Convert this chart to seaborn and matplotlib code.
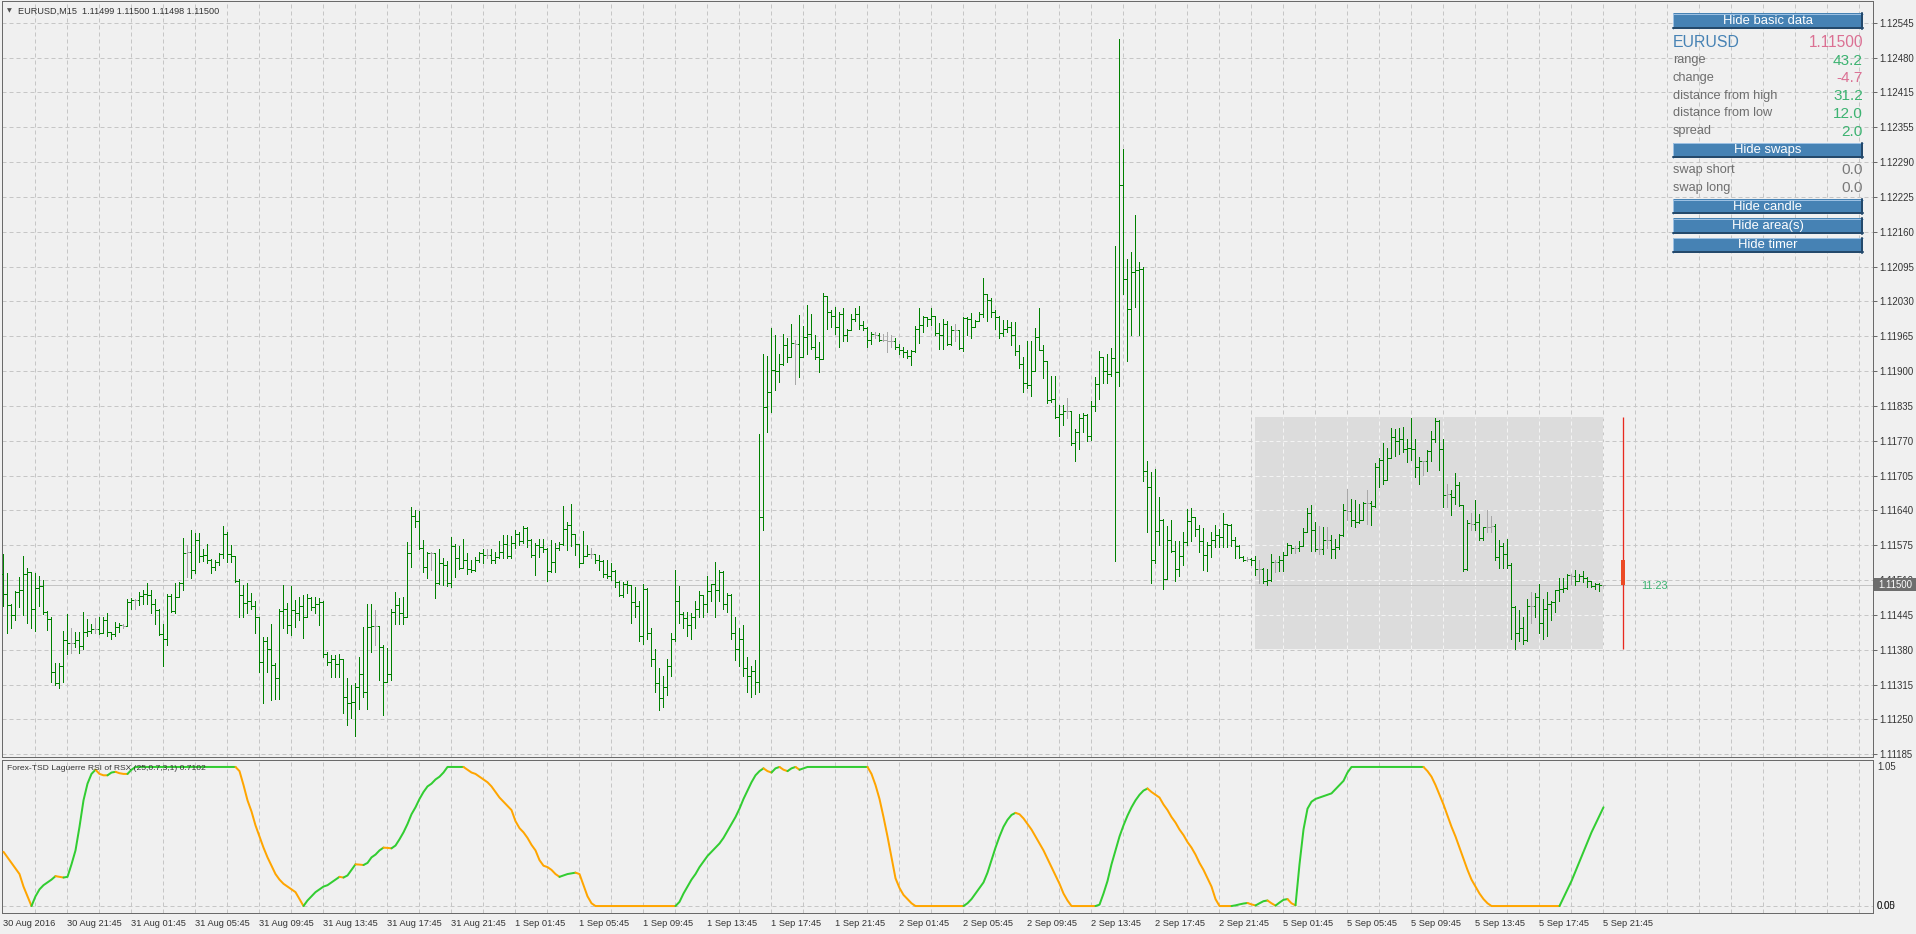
import numpy as np
import pandas as pd
import matplotlib
matplotlib.use("Agg")
import matplotlib.pyplot as plt
from matplotlib.patches import Rectangle
import seaborn as sns

# ---------------------------------------------------------------- data
symbol = "EURUSD"
timeframe = "M15"
last_quote = ["1.11499", "1.11500", "1.11498", "1.11500"]
price_base = 1.11000          # bar values below are in points above this base
point = 0.00001
first_open = 520

bar_high = [
    557, 522, 465, 488, 514, 553, 532, 524, 522, 516,
    509, 452, 440, 354, 354, 415, 446, 419, 413, 413,
    449, 436, 428, 438, 440, 441, 447, 413, 431, 430,
    427, 473, 475, 473, 487, 490, 503, 490, 473, 455,
    428, 483, 483, 503, 506, 588, 574, 602, 596, 596,
    566, 576, 548, 546, 560, 609, 599, 574, 553, 510,
    499, 503, 485, 470, 440, 403, 403, 428, 355, 456,
    500, 466, 498, 472, 478, 481, 483, 477, 478, 475,
    470, 375, 370, 370, 371, 362, 326, 314, 317, 366,
    422, 465, 465, 454, 424, 388, 382, 456, 487, 475,
    478, 579, 644, 640, 637, 583, 561, 561, 560, 566,
    549, 544, 589, 576, 572, 586, 560, 546, 552, 561,
    567, 566, 566, 561, 581, 592, 592, 590, 602, 599,
    609, 608, 586, 577, 586, 586, 568, 584, 577, 579,
    646, 617, 650, 595, 576, 600, 574, 568, 558, 555,
    546, 547, 540, 527, 507, 505, 507, 500, 496, 470,
    502, 495, 420, 380, 345, 330, 362, 410, 527, 497,
    450, 450, 448, 470, 488, 481, 516, 502, 542, 527,
    526, 484, 483, 440, 420, 425, 365, 350, 360, 780,
    930, 925, 977, 964, 930, 967, 958, 985, 955, 1001,
    981, 1020, 1003, 964, 951, 1042, 1017, 1010, 1017, 1008,
    1015, 976, 1003, 1014, 1018, 990, 980, 970, 970, 968,
    966, 970, 965, 958, 947, 943, 937, 936, 981, 1015,
    1000, 997, 1015, 1000, 987, 995, 990, 981, 985, 973,
    998, 997, 1005, 993, 1007, 1071, 1041, 1033, 1010, 1000,
    992, 993, 988, 988, 945, 924, 953, 953, 978, 1014,
    946, 916, 889, 889, 834, 834, 848, 823, 789, 818,
    819, 818, 841, 887, 934, 924, 929, 941, 1130, 1514,
    1311, 1105, 1118, 1188, 1101, 1090, 731, 709, 715, 664,
    622, 609, 620, 582, 581, 598, 641, 642, 627, 611,
    605, 580, 599, 611, 603, 633, 614, 614, 589, 574,
    553, 551, 549, 553, 546, 532, 529, 557, 547, 553,
    561, 578, 574, 572, 582, 605, 642, 648, 617, 609,
    608, 608, 592, 586, 594, 650, 679, 659, 657, 651,
    654, 676, 656, 726, 735, 764, 755, 791, 789, 791,
    793, 772, 811, 772, 738, 731, 750, 786, 811, 807,
    772, 687, 676, 707, 692, 648, 621, 633, 657, 631,
    608, 639, 628, 614, 584, 577, 586, 540, 460, 454,
    440, 473, 487, 485, 501, 473, 487, 470, 491, 512,
    512, 520, 521, 527, 520, 526, 515, 506, 504, 504,
    500,
]
bar_low = [
    461, 410, 420, 435, 459, 444, 430, 420, 415, 460,
    445, 416, 320, 314, 309, 320, 372, 374, 385, 374,
    380, 405, 410, 410, 408, 410, 404, 399, 405, 413,
    420, 424, 456, 456, 462, 465, 465, 447, 428, 407,
    350, 388, 450, 447, 478, 490, 515, 512, 522, 543,
    545, 540, 522, 527, 537, 549, 543, 543, 506, 441,
    441, 447, 455, 411, 338, 281, 338, 286, 287, 287,
    419, 410, 407, 422, 434, 402, 440, 453, 447, 425,
    365, 351, 329, 329, 329, 261, 239, 252, 219, 270,
    292, 270, 376, 388, 323, 258, 323, 323, 428, 428,
    428, 440, 533, 608, 567, 524, 512, 528, 475, 501,
    499, 498, 496, 515, 529, 532, 521, 524, 525, 543,
    541, 550, 540, 541, 549, 549, 549, 550, 569, 574,
    577, 571, 552, 518, 552, 561, 507, 524, 524, 565,
    574, 564, 572, 555, 533, 540, 553, 549, 540, 527,
    515, 512, 509, 496, 479, 478, 484, 430, 440, 395,
    390, 400, 350, 300, 268, 272, 295, 330, 395, 430,
    420, 405, 400, 420, 440, 440, 450, 470, 440, 470,
    455, 450, 400, 360, 350, 330, 300, 292, 298, 300,
    602, 785, 822, 862, 877, 909, 915, 925, 874, 887,
    923, 929, 939, 919, 895, 919, 976, 980, 966, 943,
    953, 953, 973, 990, 976, 973, 943, 947, 959, 953,
    953, 932, 943, 938, 929, 924, 922, 909, 932, 949,
    970, 981, 983, 965, 939, 939, 946, 946, 954, 939,
    934, 965, 959, 980, 990, 997, 990, 997, 976, 958,
    963, 970, 946, 927, 904, 858, 865, 851, 899, 936,
    885, 838, 840, 811, 777, 797, 811, 760, 730, 753,
    785, 767, 770, 824, 846, 875, 875, 888, 544, 870,
    1041, 916, 965, 1017, 965, 693, 598, 503, 540, 574,
    493, 510, 561, 507, 517, 537, 575, 582, 590, 561,
    527, 526, 552, 571, 571, 571, 571, 572, 549, 549,
    545, 545, 537, 518, 503, 503, 499, 507, 524, 526,
    526, 555, 560, 560, 563, 574, 599, 563, 563, 558,
    558, 568, 549, 549, 566, 590, 620, 609, 608, 615,
    620, 614, 611, 645, 681, 688, 695, 735, 739, 743,
    747, 729, 732, 700, 688, 704, 712, 731, 766, 714,
    644, 645, 630, 650, 646, 526, 527, 602, 602, 583,
    584, 599, 599, 546, 532, 532, 532, 400, 380, 395,
    390, 395, 430, 440, 410, 400, 405, 435, 450, 470,
    487, 493, 502, 499, 507, 506, 496, 496, 493, 489,
    498,
]
bar_close = [
    483, 463, 444, 487, 491, 521, 524, 456, 495, 497,
    450, 437, 338, 317, 349, 397, 392, 391, 397, 386,
    413, 415, 418, 417, 411, 435, 412, 409, 422, 425,
    424, 468, 472, 472, 479, 483, 481, 465, 453, 409,
    399, 479, 451, 478, 504, 560, 561, 527, 584, 553,
    555, 546, 533, 543, 558, 594, 558, 553, 508, 481,
    467, 470, 461, 440, 357, 395, 380, 351, 326, 452,
    456, 425, 454, 448, 460, 440, 475, 459, 465, 468,
    372, 357, 363, 352, 362, 292, 280, 283, 310, 335,
    300, 422, 424, 424, 385, 320, 335, 450, 462, 447,
    441, 560, 628, 618, 568, 533, 559, 559, 503, 540,
    537, 503, 572, 549, 532, 547, 530, 527, 546, 560,
    555, 555, 547, 552, 561, 576, 554, 577, 595, 582,
    606, 583, 555, 574, 571, 566, 525, 543, 569, 576,
    603, 611, 595, 576, 541, 553, 558, 558, 546, 544,
    521, 517, 525, 505, 481, 502, 499, 468, 460, 405,
    493, 410, 362, 318, 290, 310, 350, 400, 470, 445,
    438, 425, 440, 455, 481, 465, 488, 501, 490, 524,
    465, 481, 410, 380, 400, 345, 330, 340, 320, 626,
    830, 858, 900, 898, 910, 946, 924, 949, 948, 923,
    960, 966, 943, 924, 919, 1037, 1007, 1000, 980, 1003,
    965, 974, 995, 1003, 983, 978, 956, 966, 965, 956,
    955, 954, 953, 943, 936, 932, 926, 934, 976, 983,
    997, 995, 999, 968, 965, 985, 947, 974, 973, 941,
    996, 994, 980, 990, 1003, 1041, 1029, 1007, 997, 968,
    975, 980, 965, 934, 911, 875, 872, 897, 961, 937,
    916, 843, 846, 812, 818, 823, 823, 763, 785, 811,
    816, 777, 833, 873, 924, 897, 892, 922, 895, 1243,
    1069, 1013, 1082, 1085, 1087, 711, 682, 546, 601, 620,
    510, 584, 562, 530, 554, 580, 618, 627, 603, 582,
    555, 574, 584, 592, 589, 614, 612, 583, 572, 551,
    547, 548, 546, 529, 530, 507, 509, 543, 543, 546,
    555, 574, 568, 569, 572, 599, 634, 602, 566, 567,
    584, 584, 566, 571, 592, 639, 638, 620, 617, 621,
    652, 653, 646, 719, 733, 695, 735, 774, 767, 772,
    752, 755, 752, 719, 731, 730, 749, 772, 805, 752,
    667, 668, 664, 685, 648, 529, 615, 614, 616, 588,
    607, 608, 609, 552, 572, 558, 537, 459, 410, 420,
    398, 460, 461, 478, 430, 456, 465, 468, 490, 493,
    495, 518, 517, 507, 516, 512, 507, 498, 501, 499,
    500,
]

rsi_values = (
    [0.39, 0.35, 0.31, 0.27, 0.23, 0.14, 0.07, 0.00, 0.07, 0.12,
     0.15, 0.17, 0.19, 0.215, 0.21, 0.205, 0.21, 0.30, 0.40, 0.57,
     0.76, 0.88, 0.95, 0.98, 0.95, 0.94, 0.94, 0.96, 0.965, 0.955,
     0.95, 0.95, 0.98]
    + [1.0] * 26
    + [0.97, 0.87, 0.76, 0.68, 0.58, 0.50, 0.42, 0.35, 0.29, 0.23, 0.19,
       0.16, 0.14, 0.12, 0.10, 0.05, 0.00, 0.04, 0.07, 0.10, 0.12,
       0.14, 0.15, 0.17, 0.19, 0.21, 0.205, 0.22, 0.26, 0.30, 0.298,
       0.295, 0.31, 0.35, 0.37, 0.40, 0.42, 0.418, 0.415, 0.435, 0.48]
    + [0.53, 0.59, 0.66, 0.71, 0.77, 0.82, 0.86, 0.88, 0.91, 0.93, 0.96]
    + [1.0] * 5
    + [0.98, 0.96, 0.95, 0.93, 0.91, 0.89, 0.86, 0.82, 0.78, 0.75, 0.72, 0.69,
       0.61, 0.56, 0.53, 0.49, 0.44, 0.40, 0.33, 0.29, 0.28, 0.26, 0.23, 0.21,
       0.22, 0.23, 0.235, 0.24, 0.23, 0.15, 0.07, 0.02]
    + [0.0] * 21
    + [0.03, 0.09, 0.14, 0.19, 0.23, 0.28, 0.32, 0.36, 0.39, 0.42, 0.45,
       0.49, 0.54, 0.59, 0.64, 0.70, 0.77, 0.83, 0.89, 0.94, 0.97,
       0.99, 0.97, 0.96, 0.99, 1.0, 0.98, 0.97, 0.99, 1.0, 0.98, 0.99]
    + [1.0] * 16
    + [0.95, 0.87, 0.77, 0.64, 0.50, 0.35, 0.20, 0.13, 0.08, 0.05, 0.02]
    + [0.0] * 13
    + [0.02, 0.05, 0.09, 0.13, 0.17, 0.24, 0.33, 0.42, 0.50,
       0.57, 0.62, 0.655, 0.67, 0.66, 0.63, 0.59, 0.55, 0.50, 0.45,
       0.40, 0.34, 0.28, 0.22, 0.16, 0.09, 0.04]
    + [0.0] * 7
    + [0.01, 0.09, 0.18, 0.30, 0.40, 0.50,
       0.58, 0.65, 0.71, 0.76, 0.80, 0.83, 0.845, 0.82, 0.80, 0.78,
       0.73, 0.69, 0.64, 0.60, 0.55, 0.51, 0.46, 0.42, 0.37, 0.31,
       0.26, 0.20, 0.14, 0.05]
    + [0.0] * 4
    + [0.005, 0.012, 0.018, 0.022, 0.012, 0.004, 0.02, 0.035, 0.04, 0.02,
       0.003, 0.025, 0.045, 0.05, 0.02, 0.005,
       0.30, 0.55, 0.70, 0.75, 0.77, 0.78, 0.79, 0.80, 0.81, 0.84, 0.87, 0.90, 0.96]
    + [1.0] * 19
    + [0.97, 0.93, 0.87, 0.80, 0.73, 0.65, 0.57, 0.50, 0.42, 0.34, 0.26, 0.19,
       0.14, 0.09, 0.05, 0.02]
    + [0.0] * 18
    + [0.06, 0.12, 0.18, 0.25, 0.32, 0.39, 0.46, 0.53, 0.59, 0.65, 0.71]
)
rsi_title = "Forex-TSD Laguerre RSI of RSX (25,0.7,3,1) 0.7102"

time_labels = [
    "30 Aug 2016", "30 Aug 21:45", "31 Aug 01:45", "31 Aug 05:45", "31 Aug 09:45",
    "31 Aug 13:45", "31 Aug 17:45", "31 Aug 21:45", "1 Sep 01:45", "1 Sep 05:45",
    "1 Sep 09:45", "1 Sep 13:45", "1 Sep 17:45", "1 Sep 21:45", "2 Sep 01:45",
    "2 Sep 05:45", "2 Sep 09:45", "2 Sep 13:45", "2 Sep 17:45", "2 Sep 21:45",
    "5 Sep 01:45", "5 Sep 05:45", "5 Sep 09:45", "5 Sep 13:45", "5 Sep 17:45",
    "5 Sep 21:45",
]
price_labels = [
    "1.12545", "1.12480", "1.12415", "1.12355", "1.12290", "1.12225", "1.12160",
    "1.12095", "1.12030", "1.11965", "1.11900", "1.11835", "1.11770", "1.11705",
    "1.11640", "1.11575", "1.11510", "1.11445", "1.11380", "1.11315", "1.11250",
    "1.11185",
]
bid_price = 1.11500
day_open, day_high, day_low, day_close = 1.11547, 1.11812, 1.11380, 1.11500
day_first_bar = 313
timer_text = "11:23"
info_labels = ["range", "change", "distance from high", "distance from low", "spread"]
info_values = ["43.2", "-4.7", "31.2", "12.0", "2.0"]
swap_labels = ["swap short", "swap long"]
swap_values = ["0.0", "0.0"]
button_texts = ["Hide basic data", "Hide swaps", "Hide candle", "Hide area(s)", "Hide timer"]

# ---------------------------------------------------------------- style
BG = "#f0f0f0"
GRID = "#c6c6c6"
BAR = "#008000"
DOJI = "#a8a8a8"
FRAME = "#6a6a6a"
TXT = "#333333"
GREEN_V = "#3cb371"
PINK_V = "#db7093"
STEEL = "#4682b4"
RSI_UP = "#32cd32"
RSI_DN = "#ffa500"
PX = 0.72  # one pixel in points at dpi 100

sns.set_theme(style="white", rc={"axes.facecolor": BG, "figure.facecolor": BG})
plt.rcParams["font.family"] = ["Liberation Sans", "DejaVu Sans"]

W, H = 1916, 934
fig = plt.figure(figsize=(W / 100, H / 100), dpi=100, facecolor=BG)


def px_axes(x0, y0, x1, y1):
    return fig.add_axes([x0 / W, 1 - y1 / H, (x1 - x0) / W, (y1 - y0) / H])


ax = px_axes(2, 1, 1873, 757)
ax2 = px_axes(2, 760, 1873, 913)

# x: bar i centred on pixel 3.5 + 4 i
xl = ((2 - 3.5) / 4, (1873 - 3.5) / 4)
ppp = (754.3 - 22.7) / (1.12545 - 1.11185)  # pixels per price unit
ax.set_xlim(*xl)
ax.set_ylim(1.11185 - (757 - 754.3) / ppp, 1.12545 + (22.7 - 1) / ppp)
ax2.set_xlim(*xl)
ax2.set_ylim(-0.05, 1.05)

n = len(bar_close)
idx = np.arange(n)
hi = price_base + np.array(bar_high) * point
lo = price_base + np.array(bar_low) * point
cl = price_base + np.array(bar_close) * point
op = price_base + np.array([first_open] + bar_close[:-1]) * point
hi = np.maximum(hi, np.maximum(op, cl))
lo = np.minimum(lo, np.minimum(op, cl))
bars = pd.DataFrame({"i": idx, "open": op, "high": hi, "low": lo, "close": cl})
bar_cols = np.where(np.isclose(bars["open"], bars["close"]), DOJI, BAR)

grid_prices = np.linspace(1.12545, 1.11185, len(price_labels))
vgrid = np.arange(8, xl[1], 8)
dash = (0, (4, 3))

for a in (ax, ax2):
    a.vlines(vgrid, *a.get_ylim(), colors=GRID, linewidth=PX, linestyles=dash, zorder=0.5)
ax.hlines(grid_prices, *xl, colors=GRID, linewidth=PX, linestyles=dash, zorder=0.5)
ax2.hlines([0.0], *xl, colors=GRID, linewidth=PX, linestyles=dash, zorder=0.5)

# day area
last = n - 1
ax.add_patch(Rectangle((day_first_bar, day_low), last - day_first_bar, day_high - day_low,
                       facecolor="#dcdcdc", edgecolor="none", zorder=1))
vin = vgrid[(vgrid > day_first_bar) & (vgrid <= last)]
ax.vlines(vin, day_low, day_high, colors="#f4f4f4", linewidth=PX, linestyles=dash, zorder=1.5)
hin = grid_prices[(grid_prices > day_low) & (grid_prices < day_high)]
ax.hlines(hin, day_first_bar, last, colors="#f4f4f4", linewidth=PX, linestyles=dash, zorder=1.5)

# bid line
ax.axhline(bid_price, color="#c4c4c4", linewidth=PX, zorder=2)

# OHLC bars
ax.vlines(bars["i"], bars["low"], bars["high"], colors=bar_cols, linewidth=PX,
          antialiased=False, zorder=3)
ax.hlines(bars["open"], bars["i"] - 0.3, bars["i"], colors=bar_cols, linewidth=PX,
          antialiased=False, zorder=3)
ax.hlines(bars["close"], bars["i"], bars["i"] + 0.3, colors=bar_cols, linewidth=PX,
          antialiased=False, zorder=3)

# daily candle to the right
cx = last + 5
ax.vlines([cx], day_low, day_high, colors="#e8281e", linewidth=1.3 * PX, zorder=3)
ax.vlines([cx], min(day_open, day_close), max(day_open, day_close), colors="#ec4a25",
          linewidth=4 * PX, zorder=3)

# RSI with direction colouring
vals = np.array(rsi_values)
cols = []
c = RSI_DN
for i in range(len(vals)):
    if i > 0:
        if vals[i] > vals[i - 1]:
            c = RSI_UP
        elif vals[i] < vals[i - 1]:
            c = RSI_DN
    cols.append(c)
start = 1
for i in range(2, len(vals) + 1):
    if i == len(vals) or cols[i] != cols[start]:
        seg = pd.DataFrame({"x": idx[start - 1:i], "y": vals[start - 1:i]})
        sns.lineplot(data=seg, x="x", y="y", color=cols[start], linewidth=2 * PX,
                     estimator=None, sort=False, ax=ax2, zorder=3)
        start = i

# axes cosmetics
for a in (ax, ax2):
    for s in a.spines.values():
        s.set_color(FRAME)
        s.set_linewidth(PX)
    a.set_xlabel("")
    a.set_ylabel("")

ax.yaxis.tick_right()
ax.set_yticks(grid_prices)
ax.set_yticklabels(price_labels)
ax.tick_params(axis="y", which="both", right=True, left=False, direction="out",
               length=3, width=PX, color=FRAME, pad=1.5, labelsize=6.9, labelcolor=TXT)
ax.set_xticks([])

ax2.set_yticks([])
ax2.set_xticks(np.arange(0, 16 * len(time_labels), 16))
ax2.set_xticklabels(time_labels, ha="left")
ax2.tick_params(axis="x", direction="out", length=3, width=PX, color=FRAME, pad=1.0,
                labelsize=6.7, labelcolor=TXT)

# overlay in pixel coordinates for MT4-style annotations
ov = fig.add_axes([0, 0, 1, 1])
ov.set_xlim(0, W)
ov.set_ylim(H, 0)
ov.axis("off")
ov.patch.set_alpha(0)
ov.set_zorder(10)

ov.text(9.5, 11, "▼", fontsize=4.5, color="#505050", ha="center", va="center",
        family=["DejaVu Sans"])
ov.text(18, 11, f"{symbol},{timeframe}  " + " ".join(last_quote), fontsize=6.6, color=TXT,
        ha="left", va="center")
ov.text(7, 768, rsi_title, fontsize=6.1, color=TXT, ha="left", va="center")

# indicator scale labels
ov.text(1877, 767, "1.05", fontsize=6.9, color=TXT, ha="left", va="center")
ov.text(1877, 906, "0.05", fontsize=6.9, color=TXT, ha="left", va="center")
ov.text(1877, 906, "0.00", fontsize=6.9, color=TXT, ha="left", va="center")

# current price box
ov.add_patch(Rectangle((1874, 577.5), 42, 13.5, facecolor="#6e6e6e", edgecolor="none"))
ov.text(1878, 584.5, "1.11500", fontsize=6.9, color="white", ha="left", va="center")

# timer
ov.text(1641, 586, timer_text, fontsize=7.8, color=GREEN_V, ha="left", va="center")

# info panel
bx0, bx1 = 1673, 1863
button_rows = [(13.3, 29.3), (142.7, 158), (199, 214.3), (218, 234), (237.7, 253.3)]


def button(y0, y1, label):
    ov.add_patch(Rectangle((bx0, y0), bx1 - bx0, y1 - y0, facecolor=STEEL, edgecolor="none"))
    ov.plot([bx0, bx1], [y0 + 0.5, y0 + 0.5], color="#9cc0e2", lw=PX)
    ov.plot([bx0 + 0.5, bx0 + 0.5], [y0, y1], color="#9cc0e2", lw=PX)
    ov.plot([bx0, bx1], [y1 - 1, y1 - 1], color="#24496b", lw=2 * PX)
    ov.plot([bx1 - 1, bx1 - 1], [y0, y1], color="#24496b", lw=2 * PX)
    ov.text((bx0 + bx1) / 2, (y0 + y1) / 2, label, fontsize=9.4, color="white",
            ha="center", va="center")


for (y0, y1), t in zip(button_rows, button_texts):
    button(y0, y1, t)

ov.text(bx0, 42.3, symbol, fontsize=11.4, color=STEEL, ha="left", va="center")
ov.text(bx1, 42.3, f"{bid_price:.5f}", fontsize=11.2, color=PINK_V, ha="right", va="center")
info_y = [60.3, 78, 95.7, 113.3, 131]
info_cols = [GREEN_V, PINK_V, GREEN_V, GREEN_V, GREEN_V]
for y, lab, val, vc in zip(info_y, info_labels, info_values, info_cols):
    ov.text(bx0, y, lab, fontsize=9.2, color="#6e6e6e", ha="left", va="center")
    ov.text(bx1, y + 0.5, val, fontsize=11.1, color=vc, ha="right", va="center")
for y, lab, val in zip([170, 187.7], swap_labels, swap_values):
    ov.text(bx0, y, lab, fontsize=9.2, color="#6e6e6e", ha="left", va="center")
    ov.text(bx1, y + 0.5, val, fontsize=11.1, color="#7a7a7a", ha="right", va="center")

fig.savefig("out.png", dpi=100, facecolor=BG)
